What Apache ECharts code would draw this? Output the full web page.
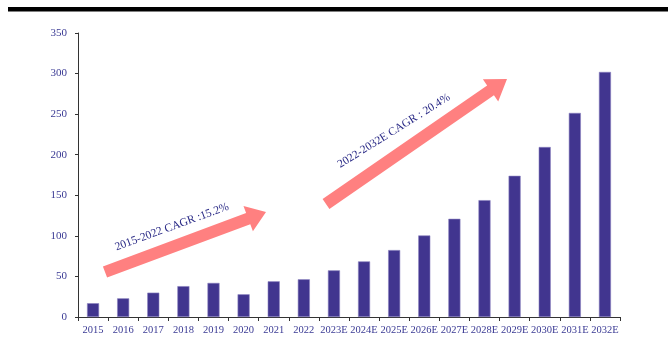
<!DOCTYPE html>
<html>
<head>
<meta charset="utf-8">
<script src="https://cdn.jsdelivr.net/npm/echarts@6/dist/echarts.min.js"></script>
<style>
  html, body { margin: 0; padding: 0; background: #fff; }
  #chart { width: 668px; height: 341px; }
</style>
</head>
<body>
<div id="chart"></div>
<script>
// Market size by year, actual and forecast (E)
const years = ['2015', '2016', '2017', '2018', '2019', '2020', '2021', '2022',
  '2023E', '2024E', '2025E', '2026E', '2027E', '2028E', '2029E', '2030E', '2031E', '2032E'];
const marketSize = [17, 23, 30, 38, 42, 28, 44, 46.5,
  57.5, 68.5, 82.5, 100.5, 121, 144, 174, 209.5, 251.5, 302];
const yTicks = { min: 0, max: 350, interval: 50 };
const cagrLabels = ['2015-2022 CAGR :15.2%', '2022-2032E CAGR : 20.4%'];

const labelColor = '#3a3a94';
const barColor = '#41358f';
const arrowColor = '#ff8080';
const serif = '"Liberation Serif", "DejaVu Serif", serif';

// Block arrow polygon from tail to tip, in pixels
function arrowPoints(x0, y0, x1, y1, shaft, head, headLen) {
  const dx = x1 - x0, dy = y1 - y0;
  const len = Math.sqrt(dx * dx + dy * dy);
  const ux = dx / len, uy = dy / len;
  const nx = -uy, ny = ux;
  const bx = x1 - ux * headLen, by = y1 - uy * headLen;
  const s = shaft / 2, h = head / 2;
  return [
    [x0 + nx * s, y0 + ny * s],
    [bx + nx * s, by + ny * s],
    [bx + nx * h, by + ny * h],
    [x1, y1],
    [bx - nx * h, by - ny * h],
    [bx - nx * s, by - ny * s],
    [x0 - nx * s, y0 - ny * s]
  ];
}

const chart = echarts.init(document.getElementById('chart'));
chart.setOption({
  backgroundColor: '#fff',
  animation: false,
  grid: { left: 78, right: 48, top: 33, bottom: 24 },
  xAxis: {
    type: 'category',
    data: years,
    boundaryGap: true,
    axisLine: { lineStyle: { color: '#333', width: 1 } },
    axisTick: { show: true, length: 4, lineStyle: { color: '#333' } },
    axisLabel: { color: labelColor, fontFamily: serif, fontSize: 10.5, margin: 8, interval: 0 }
  },
  yAxis: {
    type: 'value',
    min: yTicks.min,
    max: yTicks.max,
    interval: yTicks.interval,
    splitLine: { show: false },
    axisLine: { show: true, lineStyle: { color: '#333', width: 1 } },
    axisTick: { show: true, length: 3, lineStyle: { color: '#333' } },
    axisLabel: { color: labelColor, fontFamily: serif, fontSize: 11, margin: 11 }
  },
  series: [{
    type: 'bar',
    data: marketSize,
    barWidth: '40%',
    itemStyle: { color: barColor, borderColor: '#8a82c0', borderWidth: 0.6 }
  }],
  graphic: [
    // heading rule
    { type: 'rect', shape: { x: 8, y: 7, width: 660, height: 4.5 }, style: { fill: '#000' } },
    // growth arrows
    { type: 'polygon', shape: { points: arrowPoints(105, 272, 266, 212, 12, 27, 19) }, style: { fill: arrowColor } },
    { type: 'polygon', shape: { points: arrowPoints(326, 204, 507, 79, 12, 27, 20) }, style: { fill: arrowColor } },
    // CAGR notes
    {
      type: 'text', x: 172, y: 227, rotation: 20 * Math.PI / 180,
      style: { text: cagrLabels[0], fill: '#2a2a86', font: '11.5px ' + serif, align: 'center', verticalAlign: 'middle' }
    },
    {
      type: 'text', x: 394, y: 131, rotation: 32 * Math.PI / 180,
      style: { text: cagrLabels[1], fill: '#2a2a86', font: '11.5px ' + serif, align: 'center', verticalAlign: 'middle' }
    }
  ]
});
</script>
</body>
</html>
